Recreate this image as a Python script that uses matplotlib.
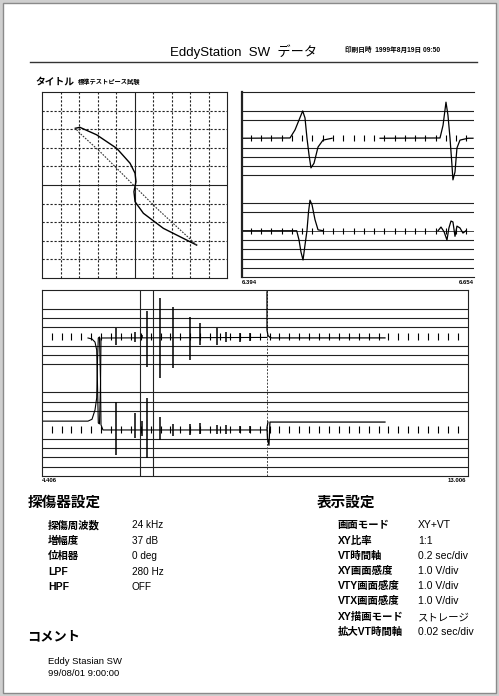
import numpy as np
import matplotlib
matplotlib.use("Agg")
import matplotlib.pyplot as plt
from matplotlib.lines import Line2D
from matplotlib.patches import Rectangle

plt.rcParams['font.family'] = ['Liberation Sans', 'Noto Sans CJK JP', 'DejaVu Sans']

W, H = 499, 696

# ---- XY (Lissajous) trace, in divisions ----
xy_solid_x = [-3.2, -2.95, -2.05, -0.96, -0.24, 0.03, 0.08, -0.03, 0.03, 0.48, 1.56, 2.64, 3.36]
xy_solid_y = [3.05, 3.1, 2.7, 1.97, 1.17, 0.63, 0.18, -0.36, -0.9, -1.52, -2.33, -2.87, -3.23]
xy_dot_x = [3.36, 2.4, 1.2, 0.3, -0.78, -1.86, -2.95, -3.2]
xy_dot_y = [-3.23, -2.35, -1.25, -0.36, 0.72, 1.79, 2.78, 3.05]

# ---- zoomed VT panel (6.394 - 6.654 s) ----
zoom_range = (6.394, 6.654)
zoom_lines = [18, 17, 14, 13, 12, 11, 8, 7, 4, 3, 2, 1]
zoom_up_t = [6.394, 6.4478, 6.4534, 6.4579, 6.4620, 6.4646, 6.4668, 6.4691, 6.4713,
             6.4747, 6.4792, 6.4848, 6.4949]
zoom_up_v = [15.0, 15.03, 15.9, 16.97, 17.95, 17.2, 15.03, 13.2, 11.8, 12.3, 14.05, 14.8, 15.0]
zoom_up2_t = [6.5487, 6.6159, 6.6193, 6.6226, 6.6248, 6.6271, 6.6293, 6.6304, 6.6327,
              6.6349, 6.6383, 6.6473, 6.6529]
zoom_up2_v = [15.0, 15.03, 16.4, 18.9, 17.5, 15.03, 12.1, 10.5, 11.35, 13.95, 14.8, 15.0, 15.0]
zoom_lo_t = [6.394, 6.4553, 6.4579, 6.4601, 6.4624, 6.4646, 6.4668, 6.4685, 6.4702,
             6.4725, 6.4758, 6.4792, 6.4848]
zoom_lo_v = [5.0, 5.0, 4.0, 2.7, 1.84, 3.46, 5.0, 7.0, 8.3, 7.8, 6.2, 5.1, 5.0]
zoom_lo2_t = [6.6137, 6.6170, 6.6204, 6.6237, 6.6259, 6.6282, 6.6304, 6.6327, 6.6349,
              6.6383, 6.6416, 6.6450]
zoom_lo2_v = [5.0, 5.4, 4.9, 4.0, 5.3, 6.05, 5.95, 4.4, 5.5, 5.3, 4.75, 5.0]

# ---- full VT panel (4.406 - 13.006 s) ----
full_range = (4.406, 13.006)
full_lines = [18, 17, 16, 14, 13, 12, 9, 8, 7, 4, 3, 2, 1]
window = [6.394, 6.654]
cursor = 8.948
step_up_t = [5.3347, 5.4154, 5.476, 5.5103, 5.5264, 5.5426, 5.5668, 5.587, 5.5971, 8.948]
step_up_v = [14.84, 14.73, 14.4, 13.55, 9.8, 5.7, 5.6, 9.8, 14.84, 14.9]
step_lo_t = [4.406, 5.3347, 5.4154, 5.476, 5.5103, 5.5264, 5.5426, 5.5668, 5.587, 5.5971, 5.637, 8.948]
step_lo_v = [5.9, 5.9, 6.1, 7.1, 8.4, 12.5, 14.84, 14.95, 10.3, 5.5, 4.95, 4.95]
spike_t = [5.900, 6.283, 6.425, 6.526, 6.788, 7.051, 7.394, 7.596, 7.939, 8.121, 8.403, 8.605]
spike_up_top = [15.9, 15.5, 15.2, 17.7, 19.1, 18.2, 17.1, 16.5, 15.9, 15.5, 15.4, 15.4]
spike_up_bot = [14.1, 14.4, 14.8, 11.7, 10.5, 11.6, 12.5, 14.1, 14.1, 14.4, 14.4, 14.5]
spike_lo_top = [8.0, 6.8, 5.9, 8.4, 6.3, 5.6, 5.6, 5.7, 5.5, 5.5, 5.4, 5.4]
spike_lo_bot = [2.3, 4.1, 4.3, 1.9, 3.9, 4.3, 4.4, 4.5, 4.5, 4.5, 4.6, 4.6]
jump_t = [8.948, 8.948, 8.968, 9.008, 9.049, 11.33]
jump_v = [19.8, 15.7, 15.1, 14.9, 14.85, 14.85]
dip_t = [8.968, 8.948, 8.958, 8.988, 9.008, 11.33]
dip_v = [5.8, 5.2, 4.0, 3.3, 5.8, 5.8]

# ---- settings text ----
det_labels = ["探傷周波数", "増幅度", "位相器", "LPF", "HPF"]
det_values = ["24 kHz", "37 dB", "0 deg", "280 Hz", "OFF"]
disp_labels = ["画面モード", "XY比率", "VT時間軸", "XY画面感度", "VTY画面感度",
               "VTX画面感度", "XY描画モード", "拡大VT時間軸"]
disp_values = ["XY+VT", "1:1", "0.2 sec/div", "1.0 V/div", "1.0 V/div",
               "1.0 V/div", "ストレージ", "0.02 sec/div"]
comment_lines = ["Eddy Stasian SW", "99/08/01 9:00:00"]


def box(x0, y0, x1, y1):
    return [x0 / W, 1 - y1 / H, (x1 - x0) / W, (y1 - y0) / H]


def ftext(x, y, s, **kw):
    kw.setdefault("va", "center")
    kw.setdefault("ha", "left")
    fig.text(x / W, 1 - y / H, s, **kw)


fig = plt.figure(figsize=(W / 100, H / 100), dpi=100, facecolor="#cfcfcf")
fig.add_artist(Rectangle((3 / W, 1 - 693 / H), 493 / W, 690 / H,
                         transform=fig.transFigure, facecolor="white",
                         edgecolor="#8a8a8a", linewidth=1.0, zorder=-10))

# header
ftext(244, 52, "EddyStation  SW  データ", ha="center", fontsize=9.5)
ftext(345, 50, "印刷日時  1999年8月19日 09:50", fontsize=4.8, fontweight="bold")
fig.add_artist(Line2D([30 / W, 477 / W], [1 - 62 / H, 1 - 62 / H],
                      transform=fig.transFigure, color="#333333", linewidth=1.0))
ftext(35, 82, "タイトル", fontsize=7, fontweight="bold")
ftext(78, 82, "標準テストピース試験", fontsize=4.5, fontweight="bold")

lw = 0.8

# XY panel
ax_xy = fig.add_axes(box(42, 92, 227, 278))
ax_xy.set_xlim(-5, 5)
ax_xy.set_ylim(-5, 5)
for g in range(-4, 5):
    style = "-" if g == 0 else (0, (2, 1.6))
    ax_xy.axvline(g, color="#222222", linewidth=lw, linestyle=style)
    ax_xy.axhline(g, color="#222222", linewidth=lw, linestyle=style)
ax_xy.plot(xy_solid_x, xy_solid_y, color="black", linewidth=1.0)
ax_xy.plot(xy_dot_x, xy_dot_y, color="#333333", linewidth=0.8, linestyle=(0, (1.5, 1.2)))

# zoomed VT panel
ax_z = fig.add_axes(box(242, 92, 474, 277))
ax_z.set_xlim(*zoom_range)
ax_z.set_ylim(0, 20)
ax_z.spines["right"].set_visible(False)
ax_z.spines["left"].set_linewidth(1.6)
ax_z.hlines(zoom_lines, *zoom_range, color="#222222", linewidth=lw)
zt = np.arange(6.404, 6.654, 0.0115)
for c in (15, 5):
    ax_z.vlines(zt, c - 0.35, c + 0.35, color="black", linewidth=0.8)
ax_z.hlines(5, 6.394, 6.654, color="black", linewidth=0.5)
ax_z.plot(zoom_up_t, zoom_up_v, color="black", linewidth=0.9)
ax_z.plot(zoom_up2_t, zoom_up2_v, color="black", linewidth=0.9)
ax_z.plot(zoom_lo_t, zoom_lo_v, color="black", linewidth=0.9)
ax_z.plot(zoom_lo2_t, zoom_lo2_v, color="black", linewidth=0.9)
ftext(242, 282, f"{zoom_range[0]:.3f}", fontsize=4.3, fontweight="bold")
ftext(474, 282, f"{zoom_range[1]:.3f}", fontsize=4.3, fontweight="bold", ha="right")

# full VT panel
ax_f = fig.add_axes(box(42, 290, 468, 476))
ax_f.set_xlim(*full_range)
ax_f.set_ylim(0, 20)
ax_f.hlines(full_lines, *full_range, color="#222222", linewidth=lw)
ft = np.arange(4.6, 12.9, 0.2)
for c in (15, 5):
    ax_f.vlines(ft, c - 0.35, c + 0.35, color="black", linewidth=0.8)
ax_f.axvline(window[0], color="#222222", linewidth=lw)
ax_f.axvline(window[1], color="#222222", linewidth=lw)
ax_f.axvline(cursor, color="#444444", linewidth=0.7, linestyle=(0, (2, 1.5)))
ax_f.plot(step_up_t, step_up_v, color="black", linewidth=0.8)
ax_f.plot(step_lo_t, step_lo_v, color="black", linewidth=0.8)
ax_f.vlines(spike_t, spike_up_bot, spike_up_top, color="black", linewidth=1.1)
ax_f.vlines(spike_t, spike_lo_bot, spike_lo_top, color="black", linewidth=1.1)
ax_f.plot(jump_t, jump_v, color="black", linewidth=0.9)
ax_f.plot(dip_t, dip_v, color="black", linewidth=0.9)
ftext(42, 481, f"{full_range[0]:.3f}", fontsize=4.3, fontweight="bold")
ftext(466, 481, f"{full_range[1]:.3f}", fontsize=4.3, fontweight="bold", ha="right")

for ax in (ax_xy, ax_z, ax_f):
    ax.set_xticks([])
    ax.set_yticks([])
    for s in ax.spines.values():
        s.set_color("#222222")

# settings
ftext(28, 503, "探傷器設定", fontsize=10.5, fontweight="bold")
det_y = [525, 541, 556, 572, 587]
for yy, lab, val in zip(det_y, det_labels, det_values):
    ftext(48, yy, lab, fontsize=7.5, fontweight="bold")
    ftext(132, yy, val, fontsize=7.2)

ftext(317, 503, "表示設定", fontsize=10.5, fontweight="bold")
disp_y = [525, 541, 556, 571, 586, 601, 617, 632]
for yy, lab, val in zip(disp_y, disp_labels, disp_values):
    ftext(338, yy, lab, fontsize=7.5, fontweight="bold")
    ftext(418, yy, val, fontsize=7.5)

ftext(27, 637, "コメント", fontsize=9.5, fontweight="bold")
for yy, line in zip([661, 673], comment_lines):
    ftext(48, yy, line, fontsize=6.8)

fig.savefig("out.png", dpi=100, facecolor=fig.get_facecolor())
